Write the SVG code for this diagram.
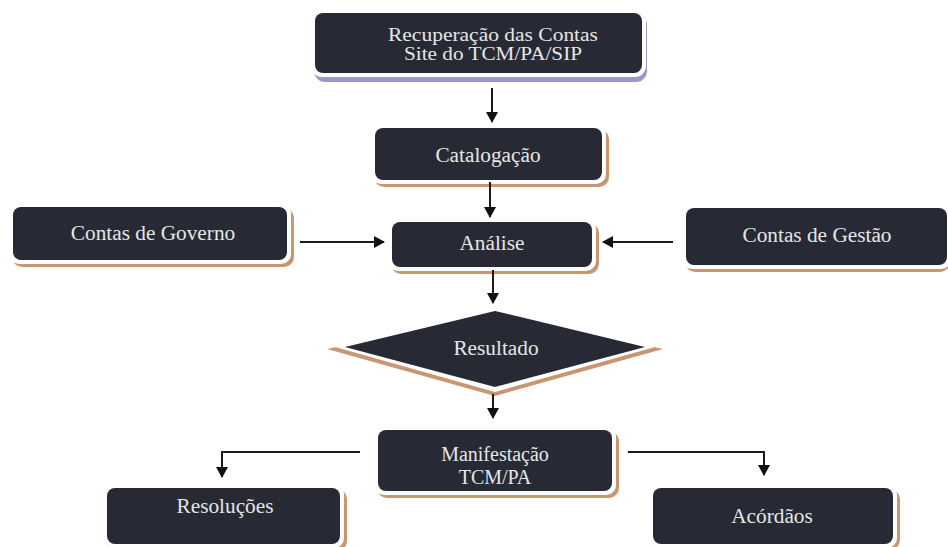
<svg xmlns="http://www.w3.org/2000/svg" width="948" height="547" viewBox="0 0 948 547">
<style>
.box{fill:#272a35}
.rim{fill:#ffffff}
.sh{fill:#c99672}
.shp{fill:#9c98c9}
.t{font-family:"Liberation Serif","Times New Roman",Times,serif;font-size:21.3px;fill:#e6e6e6;text-anchor:middle}
.t2{font-family:"Liberation Serif","Times New Roman",Times,serif;font-size:19px;fill:#e6e6e6;text-anchor:middle}
.t3{font-family:"Liberation Serif","Times New Roman",Times,serif;font-size:20px;fill:#e6e6e6;text-anchor:middle}
.c{stroke:#1a1a1a;stroke-width:2;fill:none}
</style>
<defs>
<marker id="ah" markerWidth="12" markerHeight="12" refX="10" refY="6" orient="auto" markerUnits="userSpaceOnUse">
<path d="M0,0 L11,6 L0,12 Z" fill="#111"/>
</marker>
</defs>
<rect width="948" height="547" fill="#ffffff"/>
<g id="recuperacao">
<rect class="shp" x="314" y="14" width="333" height="68" rx="11"/>
<rect class="rim" x="311" y="9" width="335" height="68" rx="11"/>
<rect class="box" x="315" y="13" width="327" height="60" rx="8"/>
<text class="t2" x="493" y="41" textLength="210" lengthAdjust="spacingAndGlyphs">Recuperação das Contas</text>
<text class="t2" x="493" y="60" textLength="178" lengthAdjust="spacingAndGlyphs">Site do TCM/PA/SIP</text>
</g>
<g id="catalogacao">
<rect class="sh" x="374" y="129" width="235" height="58" rx="10"/>
<rect class="rim" x="371" y="124" width="235" height="60" rx="10"/>
<rect class="box" x="375" y="128" width="227" height="52" rx="8"/>
<text class="t" x="488" y="162">Catalogação</text>
</g>
<g id="governo">
<rect class="sh" x="12" y="208" width="282" height="59" rx="10"/>
<rect class="rim" x="9" y="203" width="282" height="61" rx="10"/>
<rect class="box" x="13" y="207" width="274" height="53" rx="8"/>
<text class="t" x="153" y="240">Contas de Governo</text>
</g>
<g id="gestao">
<rect class="sh" x="685" y="210" width="265" height="62" rx="10"/>
<rect class="rim" x="682" y="204" width="269" height="65" rx="10"/>
<rect class="box" x="686" y="208" width="261" height="57" rx="8"/>
<text class="t" x="817" y="242">Contas de Gestão</text>
</g>
<g id="analise">
<rect class="sh" x="391" y="223" width="208" height="51" rx="10"/>
<rect class="rim" x="388" y="218" width="208" height="53" rx="10"/>
<rect class="box" x="392" y="222" width="200" height="45" rx="8"/>
<text class="t" x="492" y="250">Análise</text>
</g>
<g id="resultado">
<polygon points="327,349 495,312 663,349 495,396" fill="#c99672"/>
<polygon points="335,347 495,306 655,347 495,392" fill="#ffffff"/>
<polygon points="345,347 495,311 645,347 495,387" class="box"/>
<text class="t" x="496" y="355">Resultado</text>
</g>
<g id="manifestacao">
<rect class="sh" x="377" y="431" width="242" height="67" rx="10"/>
<rect class="rim" x="374" y="426" width="242" height="69" rx="10"/>
<rect class="box" x="378" y="430" width="234" height="61" rx="8"/>
<text class="t3" x="495" y="461">Manifestação</text>
<text class="t3" x="495" y="484">TCM/PA</text>
</g>
<g id="resolucoes">
<rect class="sh" x="106" y="489" width="241" height="62" rx="10"/>
<rect class="rim" x="103" y="484" width="241" height="64" rx="10"/>
<rect class="box" x="107" y="488" width="233" height="56" rx="8"/>
<text class="t" x="225" y="513">Resoluções</text>
</g>
<g id="acordaos">
<rect class="sh" x="652" y="489" width="248" height="61" rx="10"/>
<rect class="rim" x="649" y="484" width="248" height="64" rx="10"/>
<rect class="box" x="653" y="488" width="240" height="56" rx="8"/>
<text class="t" x="772" y="523">Acórdãos</text>
</g>
<g id="connectors">
<line class="c" x1="492" y1="88" x2="492" y2="122" marker-end="url(#ah)"/>
<line class="c" x1="490" y1="182" x2="490" y2="217" marker-end="url(#ah)"/>
<line class="c" x1="300" y1="242" x2="384" y2="242" marker-end="url(#ah)"/>
<line class="c" x1="673" y1="242" x2="603" y2="242" marker-end="url(#ah)"/>
<line class="c" x1="493" y1="270" x2="493" y2="303" marker-end="url(#ah)"/>
<line class="c" x1="493" y1="394" x2="493" y2="418" marker-end="url(#ah)"/>
<polyline class="c" points="360,452 222,452 222,477" marker-end="url(#ah)"/>
<polyline class="c" points="628,452 764,452 764,475" marker-end="url(#ah)"/>
</g>
</svg>
